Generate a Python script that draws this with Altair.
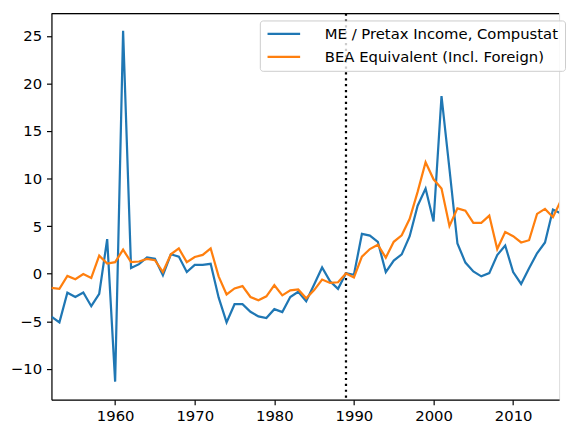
import altair as alt
import pandas as pd

years = list(range(1952, 2018))

me_compustat = [
    -4.53, -5.12, -2.00, -2.45, -1.97, -3.42, -2.11, 3.63, -11.35, 25.55,
    0.59, 1.00, 1.70, 1.56, -0.17, 2.04, 1.80, 0.17, 0.93, 0.93,
    1.04, -2.50, -5.12, -3.21, -3.21, -4.01, -4.49, -4.67, -3.73, -4.04,
    -2.45, -1.90, -2.90, -1.14, 0.66, -0.79, -1.59, 0.05, -0.11, 4.18,
    4.00, 3.35, 0.17, 1.38, 2.03, 3.94, 7.15, 8.95, 5.49, 18.67,
    11.00, 3.17, 1.17, 0.24, -0.28, 0.06, 1.96, 2.97, 0.17, -1.08,
    0.58, 2.14, 3.28, 6.74, 6.32, 6.29,
]

bea_equiv = [
    -1.49, -1.59, -0.24, -0.59, -0.03, -0.45, 1.90, 1.07, 1.21, 2.53,
    1.21, 1.28, 1.56, 1.42, 0.17, 2.04, 2.66, 1.21, 1.75, 1.97,
    2.66, -0.28, -2.18, -1.55, -1.31, -2.45, -2.80, -2.38, -1.21, -2.28,
    -1.76, -1.66, -2.59, -1.73, -0.62, -0.97, -0.90, 0.03, -0.39, 1.79,
    2.59, 3.04, 1.69, 3.35, 4.04, 5.77, 8.60, 11.72, 9.92, 8.95,
    5.01, 6.87, 6.63, 5.35, 5.35, 6.11, 2.59, 4.39, 3.94, 3.28,
    3.52, 6.29, 6.81, 5.94, 7.70, 9.60,
]

series_names = ["ME / Pretax Income, Compustat", "BEA Equivalent (Incl. Foreign)"]
series_colors = ["#1f77b4", "#ff7f0e"]
vline_year = [1989]
x_ticks = [1960, 1970, 1980, 1990, 2000, 2010]
y_ticks = [-10, -5, 0, 5, 10, 15, 20, 25]

W, H = 514, 391
FONT = "DejaVu Sans"

df = pd.DataFrame({
    "year": years * 2,
    "value": me_compustat + bea_equiv,
    "series": [series_names[0]] * len(years) + [series_names[1]] * len(years),
})

xscale = alt.Scale(domain=[1952, 2015.77], nice=False, zero=False)
yscale = alt.Scale(domain=[-13.25, 27.35], nice=False, zero=False)

lines = alt.Chart(df).mark_line(strokeWidth=2.25, clip=True).encode(
    x=alt.X("year:Q", scale=xscale,
            axis=alt.Axis(values=x_ticks, format="d", title=None, grid=False,
                          labelFontSize=15, labelFont=FONT, labelColor="black",
                          tickColor="black", tickWidth=1.2, tickSize=5,
                          labelPadding=4, domainColor="black", domainWidth=1.2,
                          labelFlush=False)),
    y=alt.Y("value:Q", scale=yscale,
            axis=alt.Axis(values=y_ticks, format="d", title=None, grid=False,
                          labelFontSize=15, labelFont=FONT, labelColor="black",
                          tickColor="black", tickWidth=1.2, tickSize=5,
                          labelPadding=5, domainColor="black", domainWidth=1.2,
                          minExtent=44, maxExtent=44, labelFlush=False)),
    color=alt.Color("series:N",
                    scale=alt.Scale(domain=series_names, range=series_colors),
                    legend=alt.Legend(title=None, orient="none", legendX=211, legendY=7,
                                      symbolType="M-3,0H3", symbolSize=121,
                                      symbolStrokeWidth=2.25, symbolOffset=10.8,
                                      labelOffset=34, labelFontSize=15, labelFont=FONT,
                                      labelColor="black", labelLimit=400,
                                      padding=6, rowPadding=7.4,
                                      fillColor="rgba(255,255,255,0.8)",
                                      strokeColor="#cccccc", cornerRadius=3)),
    order="year:Q",
)

vline = alt.Chart(pd.DataFrame({"year": vline_year})).mark_rule(
    color="black", strokeWidth=2.25, strokeDash=[2.25, 3.7]
).encode(x=alt.X("year:Q", scale=xscale))

top_border = alt.Chart(pd.DataFrame({"a": [0]})).mark_rule(
    color="black", strokeWidth=1.2
).encode(x=alt.value(0), x2=alt.value(W), y=alt.value(0))

chart = alt.layer(vline, lines, top_border).properties(
    width=W, height=H,
    padding={"left": 0, "top": 1, "right": 0, "bottom": 0},
).configure_view(strokeWidth=0).configure(background="white")

chart.save("out.html", embed_options={"renderer": "svg", "actions": False})
